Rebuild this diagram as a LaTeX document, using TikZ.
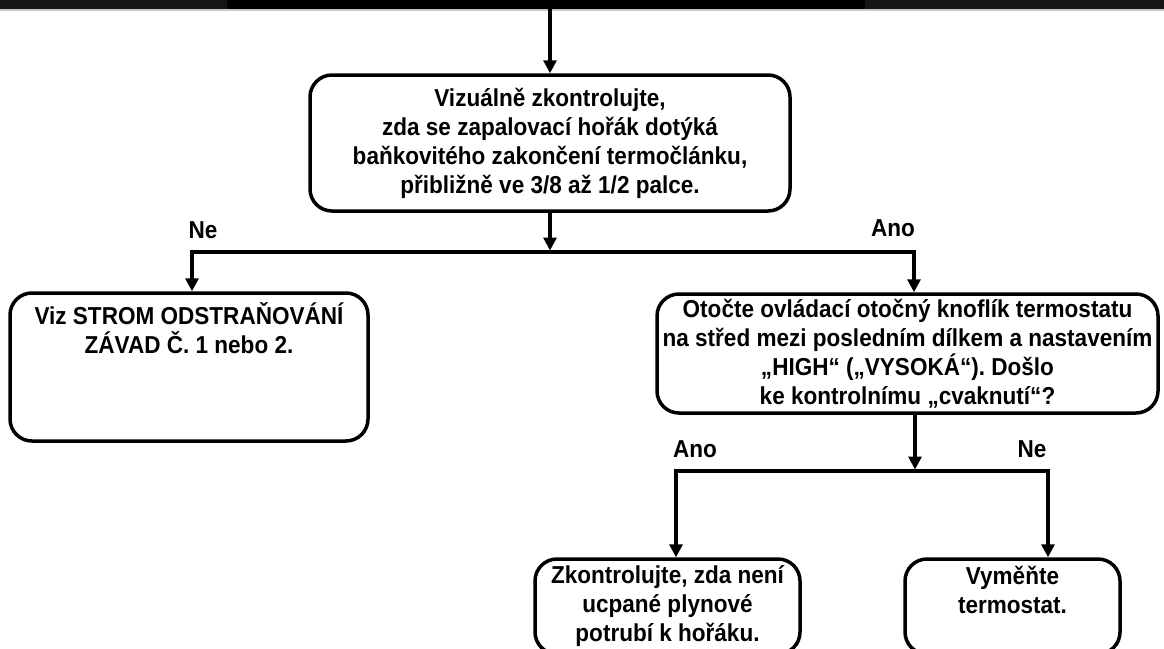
\documentclass[tikz,border=0pt]{standalone}
\usepackage{fontspec}
\setmainfont{Liberation Sans}[FakeStretch=0.92]
\usetikzlibrary{arrows.meta}
\usetikzlibrary{positioning}
\frenchspacing

\definecolor{bargrey}{HTML}{141518}
\definecolor{barshade}{HTML}{C8C8C8}

\tikzset{
  stepbox/.style={draw, line width=3.5pt, rounded corners=22pt, align=center, inner xsep=0pt, inner ysep=0pt},
  flow/.style={line width=3.2pt, -{Triangle[length=13pt,width=13pt]}},
  branch/.style={line width=3.2pt, {Triangle[length=13pt,width=13pt]}-{Triangle[length=13pt,width=13pt]}},
  answer/.style={inner sep=0pt}
}
\newcommand{\toptext}[3]{\parbox[c][#1][t]{#2}{\centering #3}}

\begin{document}
\begin{tikzpicture}[x=1pt,y=-1pt,font=\fontsize{24.5}{29}\selectfont\bfseries]
  \useasboundingbox (0,0) rectangle (1164,648);
  \clip (0,0) rectangle (1164,648);

  % Header bar
  \fill[bargrey] (0,0) rectangle (227,9);
  \fill[black] (227,0) rectangle (865,9);
  \fill[bargrey] (865,0) rectangle (1164,9);
  \fill[barshade] (0,9) rectangle (1164,10.5);

  % Place nodes
  \node[stepbox, minimum width=480pt, minimum height=136pt] (inspect) at (550,143)
    {Vizuálně zkontrolujte,\\ zda se zapalovací hořák dotýká\\ baňkovitého zakončení termočlánku,\\ přibližně ve 3/8 až 1/2 palce.};
  \node[stepbox, minimum width=358pt, minimum height=148pt] (tree) at (189,367)
    {\toptext{128pt}{350pt}{Viz STROM ODSTRAŇOVÁNÍ\\ ZÁVAD Č. 1 nebo 2.}};
  \node[stepbox, minimum width=501pt, minimum height=119pt] (knob) at (907.5,353.5)
    {Otočte ovládací otočný knoflík termostatu\\ na střed mezi posledním dílkem a nastavením\\ „HIGH“ („VYSOKÁ“). Došlo\\ ke kontrolnímu „cvaknutí“?};
  \node[stepbox, minimum width=265pt, minimum height=95pt] (gasline) at (667.5,606.5)
    {\toptext{81pt}{260pt}{Zkontrolujte, zda není\\ ucpané plynové\\ potrubí k hořáku.}};
  \node[stepbox, minimum width=215pt, minimum height=95pt] (replace) at (1012.5,606.5)
    {\toptext{81pt}{210pt}{Vyměňte\\ termostat.}};

  % Answers
  \node[answer] (no1) at (203,230) {Ne};
  \node[answer] (yes1) at (893,228) {Ano};
  \node[answer] (yes2) at (695,449) {Ano};
  \node[answer] (no2) at (1032,449) {Ne};

  % Junctions
  \coordinate (feed) at (550,9);
  \coordinate (join1) at (550,250.5);
  \coordinate (left1) at (192,252);
  \coordinate (right1) at (914,252);
  \coordinate (join2) at (915,469.5);
  \coordinate (left2) at (676,471);
  \coordinate (right2) at (1048,471);

  % Connectors
  \draw[flow] (feed) -- (inspect);
  \draw[flow] (inspect) -- (join1);
  \draw[branch] (tree.north -| left1) -- (left1) -- (right1) -- (knob.north -| right1);
  \draw[flow] (knob.south -| join2) -- (join2);
  \draw[branch] (gasline.north -| left2) -- (left2) -- (right2) -- (replace.north -| right2);
\end{tikzpicture}
\end{document}
